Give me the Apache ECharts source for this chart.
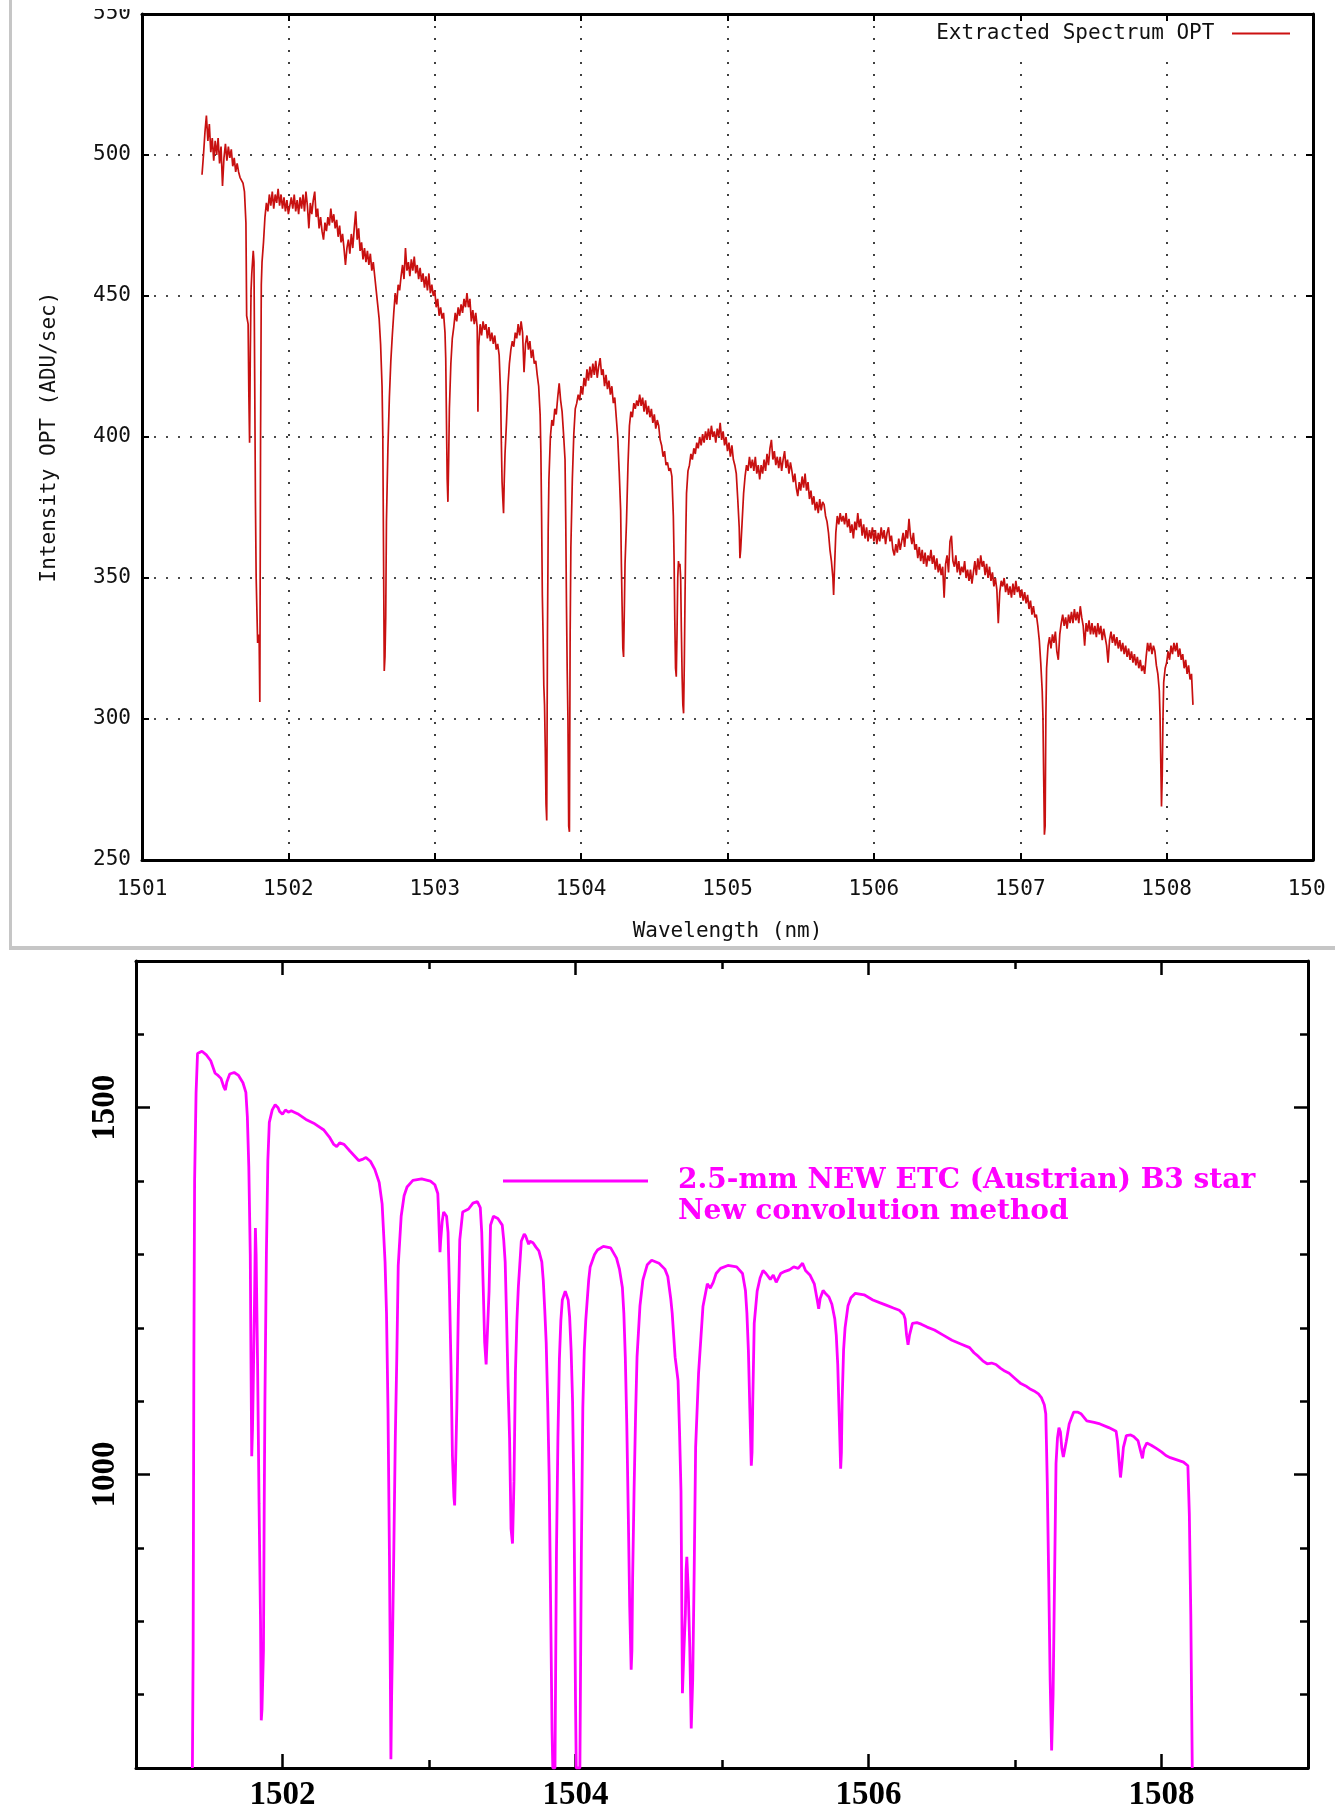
<!DOCTYPE html>
<html>
<head>
<meta charset="utf-8">
<script src="https://cdn.jsdelivr.net/npm/echarts@6/dist/echarts.min.js"></script>
<style>
  body { margin: 0; background: #fff; width: 1335px; height: 1810px; position: relative; overflow: hidden; }
  #topFrame { position: absolute; left: 9px; top: 0; width: 1326px; height: 946px; border-left: 3px solid #c6c6c6; border-bottom: 4px solid #c6c6c6; }
  #top { position: absolute; left: 0; top: 0; width: 1314px; height: 946px; }
  #bottom { position: absolute; left: 0; top: 951px; width: 1335px; height: 859px; }
</style>
</head>
<body>
<div id="topFrame"><div id="top"></div></div>
<div id="bottom"></div>
<script>
const optName = 'Extracted Spectrum OPT'
const etcName = '2.5-mm NEW ETC (Austrian) B3 star'
const etcNote = 'New convolution method'

// measured spectrum, [wavelength nm, ADU/sec]
const optA = [[1501.41,493],[1501.42,500],[1501.43,508],[1501.44,514],[1501.45,505],[1501.46,511],[1501.47,501],[1501.48,506],[1501.49,498],[1501.50,505],[1501.51,500],[1501.52,506],[1501.53,497],[1501.54,503],[1501.55,489],[1501.56,499],[1501.57,504],[1501.58,498],[1501.59,503],[1501.60,499],[1501.61,502],[1501.62,496],[1501.63,499],[1501.64,494],[1501.65,497],[1501.66,494],[1501.67,492],[1501.68,491],[1501.69,490],[1501.70,487],[1501.71,476],[1501.715,443],[1501.725,440],[1501.73,415],[1501.735,398],[1501.74,430],[1501.745,452],[1501.75,458],[1501.76,466],[1501.765,462],[1501.77,420],[1501.775,377],[1501.78,350],[1501.79,327],[1501.80,330],[1501.805,306],[1501.81,400],[1501.815,454],[1501.82,462],[1501.83,469],[1501.84,478],[1501.85,483],[1501.86,480],[1501.87,486],[1501.88,482],[1501.89,487],[1501.90,481],[1501.91,486],[1501.92,483],[1501.93,488],[1501.94,482],[1501.95,486],[1501.96,481],[1501.97,485],[1501.98,480],[1501.99,484],[1502.00,479]]
const optB = [[1502.01,479],[1502.02,485],[1502.03,481],[1502.04,486],[1502.05,480],[1502.06,484],[1502.07,479],[1502.08,485],[1502.09,481],[1502.10,486],[1502.11,480],[1502.12,487],[1502.13,482],[1502.14,474],[1502.15,483],[1502.16,479],[1502.17,484],[1502.18,487],[1502.19,478],[1502.20,481],[1502.21,474],[1502.22,478],[1502.23,473],[1502.24,470],[1502.25,476],[1502.26,473],[1502.27,478],[1502.28,475],[1502.29,481],[1502.30,476],[1502.31,479],[1502.32,474],[1502.33,477],[1502.34,471],[1502.35,475],[1502.36,469],[1502.37,472],[1502.38,467],[1502.39,461],[1502.40,467],[1502.41,470],[1502.42,465],[1502.43,472],[1502.44,467],[1502.45,474],[1502.46,480],[1502.47,470],[1502.48,474],[1502.49,466],[1502.50,469],[1502.51,463],[1502.52,467],[1502.53,462],[1502.54,466],[1502.55,461],[1502.56,465],[1502.57,459],[1502.58,462],[1502.59,457],[1502.60,452],[1502.61,447],[1502.62,442],[1502.63,433],[1502.64,418],[1502.645,401],[1502.65,360],[1502.655,317],[1502.66,322],[1502.665,336],[1502.67,370],[1502.68,396],[1502.69,414],[1502.70,427],[1502.71,436],[1502.72,444],[1502.73,451],[1502.74,447],[1502.75,454],[1502.76,452],[1502.77,457],[1502.78,461],[1502.79,456],[1502.80,467],[1502.81,459],[1502.82,462],[1502.83,457],[1502.84,463],[1502.85,459],[1502.86,464],[1502.87,458],[1502.88,461],[1502.89,456],[1502.90,460],[1502.91,455],[1502.92,458],[1502.93,453],[1502.94,457],[1502.95,452],[1502.96,458],[1502.97,451],[1502.98,454],[1502.99,450],[1503.00,452],[1503.01,446],[1503.02,449],[1503.03,443],[1503.04,446],[1503.05,442],[1503.06,444],[1503.07,437]]
const optC = [[1503.075,428],[1503.08,406],[1503.085,385],[1503.09,377],[1503.095,392],[1503.10,410],[1503.11,426],[1503.12,435],[1503.13,439],[1503.14,444],[1503.15,441],[1503.16,446],[1503.17,443],[1503.18,447],[1503.19,444],[1503.20,449],[1503.21,446],[1503.22,451],[1503.23,446],[1503.24,449],[1503.25,441],[1503.26,445],[1503.27,440],[1503.28,444],[1503.29,439],[1503.295,409],[1503.30,432],[1503.31,440],[1503.32,436],[1503.33,441],[1503.34,438],[1503.35,440],[1503.36,435],[1503.37,439],[1503.38,434],[1503.39,437],[1503.40,433],[1503.41,436],[1503.42,431],[1503.43,433],[1503.44,429],[1503.45,415],[1503.455,398],[1503.46,384],[1503.465,378],[1503.47,373],[1503.475,385],[1503.48,394],[1503.49,405],[1503.50,418],[1503.51,426],[1503.52,431],[1503.53,434],[1503.54,432],[1503.55,437],[1503.56,435],[1503.57,440],[1503.58,436],[1503.59,441],[1503.60,437],[1503.61,423],[1503.62,433],[1503.63,436],[1503.64,431],[1503.65,434],[1503.66,428],[1503.67,431],[1503.68,426],[1503.69,427],[1503.70,422],[1503.71,418],[1503.72,408],[1503.725,395],[1503.73,372],[1503.735,344],[1503.74,330],[1503.745,312],[1503.75,305],[1503.755,290],[1503.76,270],[1503.765,264],[1503.77,330],[1503.775,367],[1503.78,385],[1503.79,400],[1503.80,406],[1503.81,404],[1503.82,410],[1503.83,408],[1503.84,414],[1503.85,419],[1503.86,413],[1503.87,409],[1503.88,401],[1503.89,392],[1503.895,370],[1503.90,340],[1503.905,317],[1503.91,300],[1503.915,262],[1503.92,260],[1503.925,330],[1503.93,361],[1503.94,385],[1503.95,401],[1503.96,410],[1503.97,412],[1503.98,415],[1503.99,413],[1504.00,418]]
const optD = [[1504.01,415],[1504.02,421],[1504.03,418],[1504.04,424],[1504.05,420],[1504.06,425],[1504.07,421],[1504.08,426],[1504.09,422],[1504.10,427],[1504.11,421],[1504.12,425],[1504.13,428],[1504.14,422],[1504.15,424],[1504.16,418],[1504.17,422],[1504.18,417],[1504.19,420],[1504.20,415],[1504.21,418],[1504.22,412],[1504.23,414],[1504.24,407],[1504.25,400],[1504.26,388],[1504.27,374],[1504.275,355],[1504.28,340],[1504.285,325],[1504.29,322],[1504.295,338],[1504.30,355],[1504.31,370],[1504.32,390],[1504.33,404],[1504.34,409],[1504.35,407],[1504.36,412],[1504.37,410],[1504.38,413],[1504.39,411],[1504.40,415],[1504.41,411],[1504.42,414],[1504.43,409],[1504.44,413],[1504.45,408],[1504.46,411],[1504.47,407],[1504.48,410],[1504.49,405],[1504.50,408],[1504.51,403],[1504.52,406],[1504.53,404],[1504.54,399],[1504.55,397],[1504.56,393],[1504.57,395],[1504.58,390],[1504.59,391],[1504.60,388],[1504.61,389],[1504.62,386],[1504.63,372],[1504.635,357],[1504.64,335],[1504.645,318],[1504.65,315],[1504.655,330],[1504.66,350],[1504.665,356],[1504.67,354],[1504.675,355],[1504.68,350],[1504.685,331],[1504.69,315],[1504.695,305],[1504.70,302],[1504.705,320],[1504.71,344],[1504.715,365],[1504.72,380],[1504.73,388],[1504.74,390],[1504.75,394],[1504.76,392],[1504.77,396],[1504.78,394],[1504.79,398],[1504.80,396],[1504.81,400]]
const optE = [[1504.82,397],[1504.83,401],[1504.84,398],[1504.85,402],[1504.86,399],[1504.87,403],[1504.88,399],[1504.89,404],[1504.90,400],[1504.91,402],[1504.92,398],[1504.93,403],[1504.94,400],[1504.95,405],[1504.96,399],[1504.97,402],[1504.98,397],[1504.99,400],[1505.00,395],[1505.01,398],[1505.02,393],[1505.03,397],[1505.04,392],[1505.05,390],[1505.06,387],[1505.07,378],[1505.08,368],[1505.085,357],[1505.09,360],[1505.10,370],[1505.11,380],[1505.12,386],[1505.13,390],[1505.14,388],[1505.15,393],[1505.16,389],[1505.17,392],[1505.18,388],[1505.19,393],[1505.20,387],[1505.21,390],[1505.22,385],[1505.23,390],[1505.24,387],[1505.25,392],[1505.26,388],[1505.27,394],[1505.28,390],[1505.29,396],[1505.30,399],[1505.31,392],[1505.32,395],[1505.33,390],[1505.34,393],[1505.35,389],[1505.36,393],[1505.37,388],[1505.38,392],[1505.39,395],[1505.40,389],[1505.41,392],[1505.42,387],[1505.43,391],[1505.44,388],[1505.45,384],[1505.46,387],[1505.47,382],[1505.48,379],[1505.49,384],[1505.50,381],[1505.51,386],[1505.52,382],[1505.53,387],[1505.54,381],[1505.55,384],[1505.56,378],[1505.57,381],[1505.58,376],[1505.59,379],[1505.60,374],[1505.61,377],[1505.62,373],[1505.63,378],[1505.64,374],[1505.65,377],[1505.66,376],[1505.67,372],[1505.68,370],[1505.69,366],[1505.70,360],[1505.71,356],[1505.72,350],[1505.725,344],[1505.73,352],[1505.74,366],[1505.75,372],[1505.76,369],[1505.77,373],[1505.78,370]]
const optF = [[1505.79,372],[1505.80,369],[1505.81,373],[1505.82,368],[1505.83,371],[1505.84,366],[1505.85,369],[1505.86,364],[1505.87,370],[1505.88,367],[1505.89,373],[1505.90,368],[1505.91,371],[1505.92,365],[1505.93,369],[1505.94,364],[1505.95,368],[1505.96,363],[1505.97,367],[1505.98,364],[1505.99,368],[1506.00,363],[1506.01,367],[1506.02,362],[1506.03,366],[1506.04,363],[1506.05,368],[1506.06,364],[1506.07,367],[1506.08,362],[1506.09,366],[1506.10,368],[1506.11,363],[1506.12,365],[1506.13,360],[1506.14,358],[1506.15,362],[1506.16,359],[1506.17,364],[1506.18,360],[1506.19,363],[1506.20,366],[1506.21,361],[1506.22,367],[1506.23,364],[1506.24,371],[1506.25,365],[1506.26,362],[1506.27,366],[1506.28,360],[1506.29,362],[1506.30,357],[1506.31,361],[1506.32,356],[1506.33,360],[1506.34,355],[1506.35,359],[1506.36,354],[1506.37,358],[1506.38,356],[1506.39,360],[1506.40,355],[1506.41,358],[1506.42,353],[1506.43,357],[1506.44,352],[1506.45,355],[1506.46,351],[1506.47,354],[1506.48,343],[1506.49,355],[1506.50,358],[1506.51,352],[1506.52,363],[1506.53,365],[1506.54,356],[1506.55,354],[1506.56,358],[1506.57,352],[1506.58,356],[1506.59,351],[1506.60,354],[1506.61,352],[1506.62,356],[1506.63,350],[1506.64,353],[1506.65,349],[1506.66,353],[1506.67,348],[1506.68,352],[1506.69,356],[1506.70,351],[1506.71,357],[1506.72,353],[1506.73,358],[1506.74,354],[1506.75,356],[1506.76,351],[1506.77,355],[1506.78,350],[1506.79,354],[1506.80,349],[1506.81,352],[1506.82,347],[1506.83,350],[1506.84,346],[1506.85,334],[1506.86,345],[1506.87,349],[1506.88,347],[1506.89,350],[1506.90,345],[1506.91,348],[1506.92,344],[1506.93,347],[1506.94,343],[1506.95,348],[1506.96,344],[1506.97,349],[1506.98,345],[1506.99,347],[1507.00,343]]
const optG = [[1507.01,346],[1507.02,342],[1507.03,345],[1507.04,341],[1507.05,344],[1507.06,339],[1507.07,342],[1507.08,337],[1507.09,340],[1507.10,336],[1507.11,337],[1507.12,333],[1507.13,328],[1507.14,320],[1507.15,310],[1507.155,301],[1507.16,280],[1507.165,259],[1507.17,262],[1507.175,301],[1507.18,318],[1507.19,326],[1507.20,329],[1507.21,325],[1507.22,330],[1507.23,327],[1507.24,331],[1507.25,324],[1507.26,321],[1507.27,330],[1507.28,334],[1507.29,337],[1507.30,333],[1507.31,336],[1507.32,332],[1507.33,337],[1507.34,334],[1507.35,338],[1507.36,334],[1507.37,339],[1507.38,335],[1507.39,338],[1507.40,334],[1507.41,340],[1507.42,336],[1507.43,333],[1507.44,326],[1507.45,334],[1507.46,331],[1507.47,335],[1507.48,330],[1507.49,334],[1507.50,330],[1507.51,333],[1507.52,329],[1507.53,334],[1507.54,330],[1507.55,333],[1507.56,328],[1507.57,332],[1507.58,329],[1507.59,326],[1507.60,320],[1507.61,328],[1507.62,331],[1507.63,327],[1507.64,330],[1507.65,326],[1507.66,329],[1507.67,325],[1507.68,328],[1507.69,324],[1507.70,327],[1507.71,323],[1507.72,326],[1507.73,322],[1507.74,325],[1507.75,321],[1507.76,324],[1507.77,320],[1507.78,323],[1507.79,319],[1507.80,322],[1507.81,318],[1507.82,321],[1507.83,317],[1507.84,319],[1507.85,316],[1507.86,322],[1507.87,327],[1507.88,324],[1507.89,327],[1507.90,323],[1507.91,326],[1507.92,324],[1507.93,319],[1507.94,316],[1507.95,310],[1507.955,301],[1507.96,285],[1507.965,269],[1507.97,280],[1507.975,300],[1507.98,313],[1507.99,318],[1508.00,320],[1508.01,324],[1508.02,321],[1508.03,326],[1508.04,323],[1508.05,327],[1508.06,324],[1508.07,327],[1508.08,322],[1508.09,325],[1508.10,321],[1508.11,323],[1508.12,318],[1508.13,321],[1508.14,316],[1508.15,319],[1508.16,314],[1508.17,316],[1508.18,305]]

// model spectrum (ETC), [wavelength nm, counts]
const etcA = [[1501.385,600],[1501.39,760],[1501.395,1157],[1501.40,1400],[1501.41,1520],[1501.42,1574],[1501.45,1577],[1501.48,1572],[1501.51,1564],[1501.54,1547],[1501.56,1544],[1501.58,1540],[1501.60,1528],[1501.61,1524],[1501.62,1535],[1501.64,1546],[1501.67,1548],[1501.70,1544],[1501.73,1534],[1501.75,1521],[1501.76,1488],[1501.77,1420],[1501.78,1300],[1501.785,1150],[1501.79,1025],[1501.795,1060],[1501.80,1118],[1501.81,1250],[1501.815,1336],[1501.82,1300],[1501.83,1150],[1501.84,960],[1501.85,800],[1501.855,665],[1501.86,680],[1501.87,760],[1501.875,950],[1501.88,1100],[1501.89,1300],[1501.90,1428],[1501.91,1480],[1501.93,1497],[1501.95,1504],[1501.97,1500],[1501.98,1495],[1502.00,1491],[1502.02,1497],[1502.04,1494],[1502.06,1496],[1502.08,1494],[1502.11,1491],[1502.16,1484],[1502.22,1478],[1502.28,1470],[1502.32,1460],[1502.35,1450],[1502.37,1447],[1502.39,1452],[1502.42,1450],[1502.46,1441],[1502.52,1428],[1502.55,1430],[1502.57,1432],[1502.60,1427],[1502.63,1416],[1502.66,1398],[1502.68,1369],[1502.69,1330],[1502.70,1290],[1502.71,1220],[1502.72,1090],[1502.73,890],[1502.735,760],[1502.74,612]]
const etcB = [[1502.745,700],[1502.75,761],[1502.76,900],[1502.77,1050],[1502.78,1157],[1502.79,1285],[1502.81,1352],[1502.83,1380],[1502.85,1392],[1502.89,1401],[1502.95,1403],[1503.01,1400],[1503.04,1395],[1503.06,1383],[1503.065,1360],[1503.07,1330],[1503.075,1303],[1503.08,1320],[1503.09,1345],[1503.10,1358],[1503.11,1357],[1503.12,1352],[1503.13,1330],[1503.135,1290],[1503.14,1250],[1503.15,1150],[1503.16,1025],[1503.17,970],[1503.175,958],[1503.18,1000],[1503.19,1091],[1503.20,1223],[1503.21,1320],[1503.23,1358],[1503.27,1362],[1503.30,1370],[1503.33,1372],[1503.35,1364],[1503.36,1330],[1503.37,1256],[1503.38,1180],[1503.39,1150],[1503.40,1148],[1503.41,1250],[1503.42,1340],[1503.44,1352],[1503.47,1349],[1503.50,1340],[1503.51,1320],[1503.52,1290],[1503.53,1210],[1503.54,1120],[1503.55,1050],[1503.56,926],[1503.57,906],[1503.58,990],[1503.59,1140],[1503.60,1210],[1503.61,1256],[1503.63,1318],[1503.65,1328],[1503.66,1325],[1503.68,1314],[1503.69,1318],[1503.71,1316],[1503.73,1310],[1503.75,1305],[1503.77,1290],[1503.78,1265],[1503.79,1225],[1503.80,1180],[1503.81,1100],[1503.82,1000],[1503.83,827],[1503.84,650],[1503.845,600],[1503.86,600],[1503.865,750],[1503.87,893],[1503.88,1050],[1503.89,1157]]
const etcC = [[1503.90,1210],[1503.91,1238],[1503.93,1250],[1503.94,1248],[1503.95,1238],[1503.96,1215],[1503.97,1170],[1503.98,1100],[1503.99,958],[1504.00,694],[1504.005,600],[1504.03,600],[1504.035,750],[1504.04,893],[1504.05,1091],[1504.06,1170],[1504.07,1210],[1504.09,1265],[1504.10,1283],[1504.13,1300],[1504.15,1306],[1504.19,1311],[1504.24,1309],[1504.28,1295],[1504.30,1280],[1504.32,1255],[1504.33,1220],[1504.34,1160],[1504.35,1070],[1504.36,950],[1504.37,820],[1504.38,734],[1504.385,760],[1504.39,860],[1504.40,980],[1504.41,1080],[1504.42,1160],[1504.44,1230],[1504.46,1265],[1504.49,1286],[1504.52,1292],[1504.57,1288],[1504.61,1280],[1504.63,1270],[1504.65,1240],[1504.66,1220],[1504.68,1160],[1504.70,1128],[1504.71,1060],[1504.72,978],[1504.73,702],[1504.74,760],[1504.75,810],[1504.755,870],[1504.76,888],[1504.77,840],[1504.78,765],[1504.79,654],[1504.80,720],[1504.81,865],[1504.82,1037],[1504.84,1138],[1504.87,1229],[1504.90,1260]]
const etcD = [[1504.92,1254],[1504.94,1262],[1504.96,1274],[1504.99,1281],[1505.04,1285],[1505.10,1283],[1505.14,1274],[1505.16,1251],[1505.17,1220],[1505.18,1170],[1505.19,1090],[1505.20,1012],[1505.205,1030],[1505.21,1100],[1505.22,1206],[1505.24,1250],[1505.26,1268],[1505.28,1278],[1505.30,1274],[1505.33,1266],[1505.35,1272],[1505.37,1262],[1505.40,1274],[1505.43,1277],[1505.46,1279],[1505.49,1283],[1505.52,1281],[1505.55,1288],[1505.57,1278],[1505.60,1272],[1505.63,1260],[1505.65,1238],[1505.66,1226],[1505.67,1240],[1505.69,1251],[1505.71,1246],[1505.73,1242],[1505.75,1232],[1505.77,1212],[1505.78,1190],[1505.79,1150],[1505.80,1080],[1505.81,1008],[1505.815,1030],[1505.82,1100],[1505.83,1170],[1505.84,1200],[1505.86,1230],[1505.88,1241],[1505.91,1247],[1505.94,1246],[1505.97,1245],[1506.03,1238],[1506.08,1234],[1506.12,1231],[1506.17,1227],[1506.21,1224],[1506.24,1218],[1506.25,1212],[1506.26,1190],[1506.27,1177],[1506.28,1190],[1506.30,1206]]
const etcE = [[1506.33,1207],[1506.36,1205],[1506.40,1201],[1506.45,1197],[1506.51,1190],[1506.57,1183],[1506.63,1178],[1506.69,1173],[1506.72,1166],[1506.75,1161],[1506.78,1155],[1506.81,1151],[1506.84,1152],[1506.87,1150],[1506.90,1145],[1506.93,1141],[1506.96,1138],[1507.00,1131],[1507.04,1124],[1507.08,1120],[1507.10,1117],[1507.13,1114],[1507.16,1110],[1507.18,1105],[1507.20,1095],[1507.21,1083],[1507.215,1040],[1507.22,992],[1507.23,860],[1507.24,720],[1507.25,624],[1507.26,700],[1507.27,856],[1507.28,1015],[1507.29,1050],[1507.30,1064],[1507.31,1058],[1507.32,1035],[1507.33,1024],[1507.34,1026],[1507.35,1045],[1507.37,1069],[1507.40,1085],[1507.43,1085],[1507.45,1083],[1507.49,1073],[1507.54,1071],[1507.58,1069],[1507.64,1064],[1507.69,1059],[1507.70,1045],[1507.71,1020],[1507.72,996],[1507.73,1015],[1507.74,1037],[1507.76,1053],[1507.79,1054],[1507.81,1052],[1507.84,1046],[1507.86,1030],[1507.87,1022],[1507.88,1035],[1507.90,1043],[1507.93,1040],[1507.97,1035],[1508.00,1031],[1508.03,1026],[1508.06,1023],[1508.09,1021],[1508.12,1019],[1508.15,1017],[1508.18,1012],[1508.19,946],[1508.20,810],[1508.21,600]]

const etcMajorX = [1502, 1504, 1506, 1508]
const etcMinorX = [1503, 1505, 1507]
const etcMajorY = [1000, 1500]
const etcMinorY = [700, 800, 900, 1100, 1200, 1300, 1400, 1600]

const mono = { fontFamily: 'DejaVu Sans Mono', fontSize: 21, color: '#111' }
const frameLine = { onZero: false, lineStyle: { color: '#000', width: 3 } }
const optTick = { inside: true, length: 7, lineStyle: { color: '#000', width: 2 } }
const dotted = { show: true, lineStyle: { color: '#111', width: 1.6, type: [2, 10] } }
const plain = v => String(v)

const topChart = echarts.init(document.getElementById('top'))
topChart.setOption({
    animation: false,
    grid: { left: 130, right: 13, top: 14, bottom: 86, outerBoundsMode: 'none' },
    legend: {
        right: 32, top: 22, padding: [1, 4, 14, 10], align: 'right',
        backgroundColor: '#fff',
        icon: 'rect', itemWidth: 58, itemHeight: 2,
        formatter: n => n + ' ',
        textStyle: mono,
        data: [{ name: optName, itemStyle: { color: '#cc1111' } }]
    },
    xAxis: [
        {
            type: 'value', min: 1501, max: 1509, interval: 1, position: 'bottom',
            name: 'Wavelength (nm)', nameLocation: 'middle', nameGap: 61, nameMoveOverlap: false,
            nameTextStyle: mono,
            axisLine: frameLine, axisTick: optTick,
            axisLabel: Object.assign({ margin: 19, formatter: plain }, mono),
            splitLine: dotted
        },
        {
            type: 'value', min: 1501, max: 1509, interval: 1, position: 'top',
            axisLine: frameLine, axisTick: optTick, axisLabel: { show: false }, splitLine: { show: false }
        }
    ],
    yAxis: [
        {
            type: 'value', min: 250, max: 550, interval: 50, position: 'left',
            name: 'Intensity OPT (ADU/sec)', nameLocation: 'middle', nameRotate: 90, nameGap: 82, nameMoveOverlap: false,
            nameTextStyle: mono,
            axisLine: frameLine, axisTick: optTick,
            axisLabel: Object.assign({ margin: 11, formatter: plain }, mono),
            splitLine: dotted
        },
        {
            type: 'value', min: 250, max: 550, interval: 50, position: 'right',
            axisLine: frameLine, axisTick: optTick, axisLabel: { show: false }, splitLine: { show: false }
        }
    ],
    series: [{
        type: 'line', name: optName,
        data: optA.concat(optB, optC, optD, optE, optF, optG),
        symbol: 'none',
        lineStyle: { color: '#c81010', width: 1.7 },
        itemStyle: { color: '#c81010' }
    }],
    graphic: [{ type: 'rect', left: 60, top: 0, shape: { width: 75, height: 9 }, style: { fill: '#fff' }, z: 100 }]
})

const serifLabel = { fontFamily: 'Liberation Serif', fontWeight: 'bold', fontSize: 33, color: '#000' }
const etcFrame = { onZero: false, lineStyle: { color: '#000', width: 3 } }
const longTick = vals => ({ inside: true, length: 14, customValues: vals, lineStyle: { color: '#000', width: 2.5 } })
const shortTick = vals => ({ inside: true, length: 8, customValues: vals, lineStyle: { color: '#000', width: 2.5 } })
const xRange = { type: 'value', min: 1501, max: 1509, splitLine: { show: false } }
const yRange = { type: 'value', min: 600, max: 1700, splitLine: { show: false } }

const bottomChart = echarts.init(document.getElementById('bottom'))
bottomChart.setOption({
    animation: false,
    grid: { left: 136, right: 27, top: 10, bottom: 42, outerBoundsMode: 'none' },
    legend: {
        left: 503, top: 216, padding: 0,
        icon: 'rect', itemWidth: 145, itemHeight: 3,
        formatter: n => '  \u2009' + n,
        textStyle: { fontFamily: 'DejaVu Serif', fontWeight: 'bold', fontSize: 28, color: '#ff00ff' },
        data: [{ name: etcName, itemStyle: { color: '#ff00ff' } }]
    },
    graphic: [{
        type: 'text', left: 678, top: 247,
        style: { text: etcNote, fill: '#ff00ff', fontFamily: 'DejaVu Serif', fontWeight: 'bold', fontSize: 28 }
    }],
    xAxis: [
        Object.assign({ position: 'bottom', axisLine: etcFrame, axisTick: longTick(etcMajorX),
            axisLabel: Object.assign({ customValues: etcMajorX, margin: 11, formatter: plain }, serifLabel) }, xRange),
        Object.assign({ position: 'bottom', axisLine: { show: false }, axisTick: shortTick(etcMinorX), axisLabel: { show: false } }, xRange),
        Object.assign({ position: 'top', axisLine: etcFrame, axisTick: longTick(etcMajorX), axisLabel: { show: false } }, xRange),
        Object.assign({ position: 'top', axisLine: { show: false }, axisTick: shortTick(etcMinorX), axisLabel: { show: false } }, xRange)
    ],
    yAxis: [
        Object.assign({ position: 'left', axisLine: etcFrame, axisTick: longTick(etcMajorY),
            axisLabel: Object.assign({ customValues: etcMajorY, rotate: 90, margin: 14, formatter: plain }, serifLabel) }, yRange),
        Object.assign({ position: 'left', axisLine: { show: false }, axisTick: shortTick(etcMinorY), axisLabel: { show: false } }, yRange),
        Object.assign({ position: 'right', axisLine: etcFrame, axisTick: longTick(etcMajorY), axisLabel: { show: false } }, yRange),
        Object.assign({ position: 'right', axisLine: { show: false }, axisTick: shortTick(etcMinorY), axisLabel: { show: false } }, yRange)
    ],
    series: [{
        type: 'line', name: etcName,
        data: etcA.concat(etcB, etcC, etcD, etcE),
        symbol: 'none',
        lineStyle: { color: '#ff00ff', width: 2.8 },
        itemStyle: { color: '#ff00ff' }
    }]
})
</script>
</body>
</html>
